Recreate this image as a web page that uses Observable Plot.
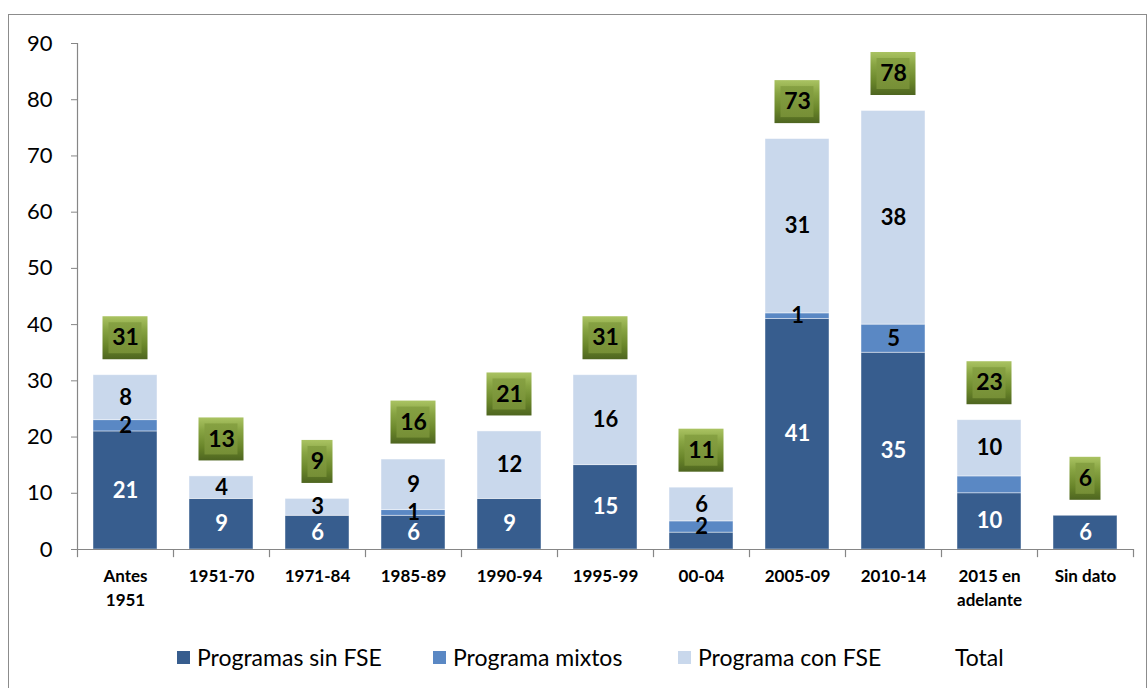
<!DOCTYPE html>
<html><head><meta charset="utf-8">
<script src="https://cdn.jsdelivr.net/npm/d3@7"></script>
<script src="https://cdn.jsdelivr.net/npm/@observablehq/plot@0.6"></script>
<style>
body{margin:0;background:#fff;font-family:Lato,sans-serif}
#wrap{position:relative;width:1148px;height:688px;overflow:hidden;background:#fff}
#frame{position:absolute;left:8px;top:14px;width:1139px;height:690px;border:1.5px solid #8c8c8c;box-sizing:border-box}
#chart{position:absolute;left:0;top:0}
.lg{position:absolute;top:642px;font-size:23px;color:#000;display:flex;align-items:center;height:30px;white-space:nowrap}
.sw{width:13px;height:13px;margin-right:7px;display:inline-block}
</style></head>
<body>
<div id="wrap">
  <div id="frame"></div>
  <div id="chart"></div>
  <div id="legend"></div>
</div>
<script>
const categories = ["Antes\n1951","1951-70","1971-84","1985-89","1990-94","1995-99","00-04","2005-09","2010-14","2015 en\nadelante","Sin dato"];
const sinFSE  = [21, 9, 6, 6, 9, 15, 3, 41, 35, 10, 6];
const mixtos  = [ 2, 0, 0, 1, 0,  0, 2,  1,  5,  3, 0];
const conFSE  = [ 8, 4, 3, 9, 12, 16, 6, 31, 38, 10, 0];
const totals  = [31, 13, 9, 16, 21, 31, 11, 73, 78, 23, 6];
const sinLabels    = [21, 9, 6, 6, 9, 15, null, 41, 35, 10, 6];
const mixtosLabels = [2, null, null, 1, null, null, 2, 1, 5, null, null];
const conLabels    = [8, 4, 3, 9, 12, 16, 6, 31, 38, 10, null];
const seriesNames = ["Programas sin FSE","Programa mixtos","Programa con FSE"];
const totalName = "Total";
const seriesColors = ["#375D8E","#5A88C4","#C9D8EC"];
const yTicks = [0,10,20,30,40,50,60,70,80,90];

const values = [sinFSE, mixtos, conFSE];
const labels = [sinLabels, mixtosLabels, conLabels];
const table = [];
categories.forEach((c, i) => {
  seriesNames.forEach((s, k) => {
    table.push({cat: c, series: s, value: values[k][i], label: labels[k][i]});
  });
});
const totalRows = categories.map((c, i) => ({cat: c, total: totals[i]}));

const W = 1148, H = 620, ML = 77, MR = 15, MT = 43, MB = 71;
const step = (W - ML - MR) / categories.length;
const gray = "#868686";

const chart = Plot.plot({
  width: W, height: H,
  marginLeft: ML, marginRight: MR, marginTop: MT, marginBottom: MB,
  style: {fontFamily: "Lato, sans-serif", color: "#000", background: "transparent"},
  x: {domain: categories, paddingInner: 0.33, paddingOuter: 0.165, label: null},
  y: {domain: [0, 90], label: null},
  color: {domain: seriesNames, range: seriesColors},
  marks: [
    Plot.barY(table, {x: "cat", y: "value", fill: "series", z: "series", order: seriesNames,
      stroke: "#ffffff", strokeWidth: 0.8, strokeOpacity: 0.55}),
    Plot.text(table, Plot.stackY({x: "cat", y: "value", z: "series", order: seriesNames,
      text: d => d.series === seriesNames[0] ? d.label : null,
      fill: "white", fontWeight: "bold", fontSize: 22})),
    Plot.text(table, Plot.stackY({x: "cat", y: "value", z: "series", order: seriesNames,
      text: d => d.series !== seriesNames[0] ? d.label : null,
      fill: "black", fontWeight: "bold", fontSize: 22})),
    // total boxes (two-digit)
    Plot.barY(totalRows, {filter: d => d.total >= 10, x: "cat", y1: d => d.total + 2.75, y2: d => d.total + 10.4,
      fill: "url(#bevelOuter)", insetLeft: 9.5, insetRight: 9.5}),
    Plot.barY(totalRows, {filter: d => d.total >= 10, x: "cat", y1: d => d.total + 2.75, y2: d => d.total + 10.4,
      fill: "url(#bevelInner)", insetLeft: 15.5, insetRight: 15.5, insetTop: 6, insetBottom: 6}),
    // total boxes (one-digit)
    Plot.barY(totalRows, {filter: d => d.total < 10, x: "cat", y1: d => d.total + 2.75, y2: d => d.total + 10.4,
      fill: "url(#bevelOuter)", insetLeft: 16.5, insetRight: 16.5}),
    Plot.barY(totalRows, {filter: d => d.total < 10, x: "cat", y1: d => d.total + 2.75, y2: d => d.total + 10.4,
      fill: "url(#bevelInner)", insetLeft: 22.5, insetRight: 22.5, insetTop: 6, insetBottom: 6}),
    Plot.text(totalRows, {x: "cat", y: d => d.total + 6.6, text: d => String(d.total),
      fill: "black", fontWeight: "bold", fontSize: 23}),
    Plot.ruleY([0], {stroke: gray, strokeWidth: 1.2}),
    Plot.ruleX(categories, {x: d => d, y1: 0, y2: -1.45, dx: -step / 2, stroke: gray, strokeWidth: 1.2}),
    Plot.ruleX([categories[categories.length - 1]], {x: d => d, y1: 0, y2: -1.45, dx: step / 2, stroke: gray, strokeWidth: 1.2}),
    Plot.ruleX([categories[0]], {x: d => d, y1: 0, y2: 90, dx: -step / 2, stroke: gray, strokeWidth: 1.2}),
    Plot.axisY({ticks: yTicks, tickSize: 6, tickPadding: 19, fontSize: 22, stroke: gray, fill: "black"}),
    Plot.axisX({tickSize: 0, tickPadding: 16, fontSize: 17, fontWeight: "bold", lineHeight: 1.4, fill: "black"})
  ]
});

// gradients for bevelled total boxes
const ns = "http://www.w3.org/2000/svg";
const defs = document.createElementNS(ns, "defs");
defs.innerHTML = `
<linearGradient id="bevelOuter" x1="0" y1="0" x2="0" y2="1">
  <stop offset="0" stop-color="#aac362"/>
  <stop offset="0.3" stop-color="#88a443"/>
  <stop offset="0.7" stop-color="#688429"/>
  <stop offset="1" stop-color="#4e6520"/>
</linearGradient>
<linearGradient id="bevelInner" x1="0" y1="0" x2="0" y2="1">
  <stop offset="0" stop-color="#86a142"/>
  <stop offset="1" stop-color="#768f36"/>
</linearGradient>`;
chart.insertBefore(defs, chart.firstChild);
document.getElementById("chart").appendChild(chart);

// legend
const legend = document.getElementById("legend");
const lgLeft = [177, 433, 678, 955];
[...seriesNames, totalName].forEach((name, i) => {
  const item = document.createElement("div");
  item.className = "lg";
  item.style.left = lgLeft[i] + "px";
  if (i < seriesNames.length) {
    const sw = document.createElement("span");
    sw.className = "sw";
    sw.style.background = seriesColors[i];
    item.appendChild(sw);
  }
  item.appendChild(document.createTextNode(name));
  legend.appendChild(item);
});
</script>
</body></html>
